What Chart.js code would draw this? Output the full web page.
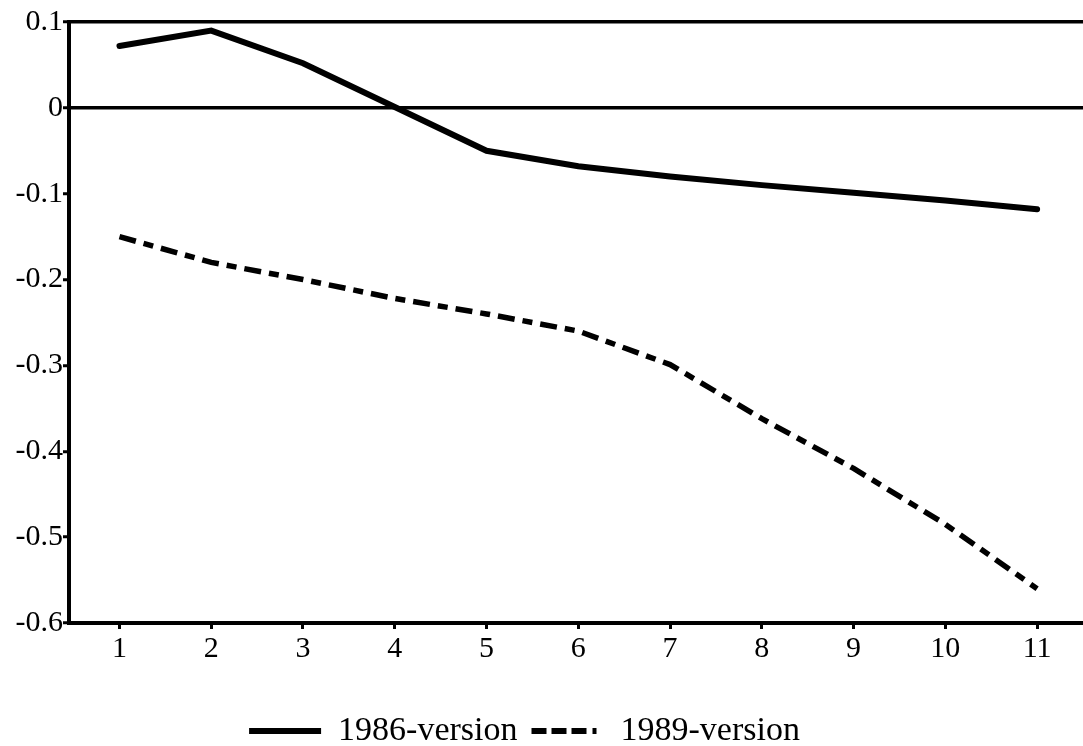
<!DOCTYPE html>
<html>
<head>
<meta charset="utf-8">
<script src="https://cdn.jsdelivr.net/npm/chart.js@4"></script>
<style>
    html, body { margin: 0; padding: 0; background: #fff; }
    #wrap { width: 1083px; height: 746px; }
</style>
</head>
<body>
<div id="wrap"><canvas id="chart"></canvas></div>
<script>
// Data
const periods = [1, 2, 3, 4, 5, 6, 7, 8, 9, 10, 11];
const version1986 = [0.072, 0.090, 0.052, 0.001, -0.050, -0.068, -0.080, -0.090, -0.099, -0.108, -0.118];
const version1989 = [-0.150, -0.180, -0.200, -0.222, -0.240, -0.260, -0.299, -0.362, -0.420, -0.485, -0.560];
const yTicks = [0.1, 0, -0.1, -0.2, -0.3, -0.4, -0.5, -0.6];
const seriesNames = ['1986-version', '1989-version'];

const tickFont = { family: '"Liberation Serif", "Times New Roman", serif', size: 30 };
const legendFont = { family: '"Liberation Serif", "Times New Roman", serif', size: 34 };

function toPoints(values) {
    return values.map((v, i) => ({ x: periods[i], y: v }));
}

// nudge the legend a bit left and down, like the scanned original
const legendNudge = {
    id: 'legendNudge',
    afterLayout(chart) {
        const lg = chart.legend;
        lg.left -= 17;
        lg.right -= 17;
        lg.top += 12;
        lg.bottom += 12;
    }
};

const ctx = document.getElementById('chart').getContext('2d');

new Chart(ctx, {
    type: 'line',
    data: {
        datasets: [{
            label: seriesNames[0],
            data: toPoints(version1986),
            borderColor: '#000',
            borderWidth: 6,
            pointRadius: 0,
            tension: 0,
            borderCapStyle: 'round'
        }, {
            label: seriesNames[1],
            data: toPoints(version1989),
            borderColor: '#000',
            borderWidth: 5.5,
            borderDash: [17, 8, 10, 8],
            pointRadius: 0,
            tension: 0,
            borderCapStyle: 'butt'
        }]
    },
    plugins: [legendNudge],
    options: {
        responsive: true,
        maintainAspectRatio: false,
        animation: false,
        layout: { padding: { top: 22, right: 0, left: 0, bottom: 0 } },
        scales: {
            x: {
                type: 'linear',
                min: 0.45,
                max: 11.5,
                afterBuildTicks: scale => { scale.ticks = periods.map(v => ({ value: v })); },
                afterFit: scale => { scale.height = 65; },
                border: { display: true, color: '#000', width: 4 },
                grid: { drawOnChartArea: false, drawTicks: true, tickLength: 6, tickColor: '#000', tickWidth: 3 },
                ticks: { color: '#000', font: tickFont, padding: 2, maxRotation: 0 }
            },
            y: {
                min: -0.6,
                max: 0.1,
                afterBuildTicks: scale => { scale.ticks = yTicks.map(v => ({ value: v })); },
                afterFit: scale => { scale.width = 69; },
                border: { display: true, color: '#000', width: 4 },
                grid: {
                    color: c => (c.tick && (Math.abs(c.tick.value) < 1e-9 || Math.abs(c.tick.value - 0.1) < 1e-9)) ? '#000' : 'rgba(0,0,0,0)',
                    lineWidth: 3.5,
                    drawTicks: true,
                    tickLength: 6,
                    tickColor: '#000',
                    tickWidth: 3
                },
                ticks: {
                    color: '#000',
                    font: tickFont,
                    padding: 0,
                    callback: v => (Math.abs(v) < 1e-9 ? '0' : String(Math.round(v * 10) / 10))
                }
            }
        },
        plugins: {
            tooltip: { enabled: false },
            legend: {
                position: 'bottom',
                labels: {
                    color: '#000',
                    font: legendFont,
                    usePointStyle: true,
                    pointStyleWidth: 72,
                    boxHeight: 34,
                    padding: 14,
                    generateLabels: chart => chart.data.datasets.map((ds, i) => ({
                        text: ds.label,
                        pointStyle: 'line',
                        strokeStyle: '#000',
                        fillStyle: '#000',
                        lineWidth: 6,
                        lineDash: i === 1 ? [15, 5, 15, 5, 15, 6, 4, 100] : [],
                        datasetIndex: i
                    }))
                }
            }
        }
    }
});
</script>
</body>
</html>
